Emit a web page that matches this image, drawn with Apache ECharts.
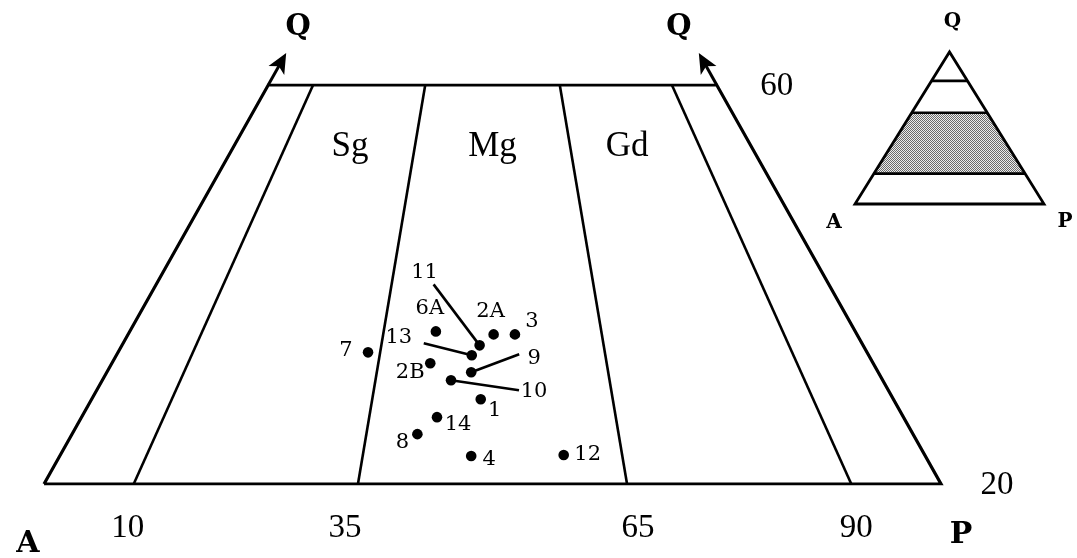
<!DOCTYPE html>
<html>
<head>
<meta charset="utf-8">
<script src="https://cdn.jsdelivr.net/npm/echarts@6/dist/echarts.min.js"></script>
<style>
  html, body { margin: 0; padding: 0; background: #fff; }
  #chart { width: 1077px; height: 558px; }
</style>
</head>
<body>
<div id="chart"></div>
<script>
// QAP band Q = 20–60 with the Sg / Mg / Gd fields and the analysed samples.
// Field boundaries are given as 100·P/(A+P).
const boundaryRatios = [0, 10, 35, 65, 90, 100];
const tickRatios = [10, 35, 65, 90];
const tickLabels = ['10', '35', '65', '90'];
const qLimits = [20, 60];
const arrowQ = 63.2;

const fieldNames = ['Sg', 'Mg', 'Gd'];
const fieldRatios = [22.5, 50, 76];
const fieldQ = 53.8;

// Modal compositions (vol. %) of the samples
const sampleNames = ['1', '2A', '2B', '3', '4', '6A', '7', '8', '9', '10', '11', '12', '13', '14'];
const sampleQ = [28.5, 35.0, 32.1, 35.0, 22.8, 35.3, 33.2, 25.0, 31.2, 30.4, 33.9, 22.9, 32.9, 26.7];
const sampleA = [36.8, 32.4, 39.5, 30.5, 40.5, 37.4, 44.5, 44.2, 36.3, 38.5, 34.2, 32.2, 35.4, 41.6];
const sampleP = [34.7, 32.6, 28.4, 34.5, 36.7, 27.3, 22.3, 30.8, 32.5, 31.1, 31.9, 44.9, 31.7, 31.7];

// Key triangle: Q levels of the horizontal lines and the highlighted band
const insetLevels = [20, 60, 81];
const insetBand = [20, 60];

// ---- layout (pixels) ----
const labelLayout = {
  '1':  { dx: 14,  dy: 11 },
  '2A': { dx: -3,  dy: -23 },
  '2B': { dx: -20, dy: 9 },
  '3':  { dx: 17,  dy: -13 },
  '4':  { dx: 18,  dy: 3 },
  '6A': { dx: -6,  dy: -23 },
  '7':  { dx: -22, dy: -2 },
  '8':  { dx: -15, dy: 8 },
  '9':  { dx: 63,  dy: -14, lead: [48, -18] },
  '10': { dx: 83,  dy: 11,  lead: [68, 10] },
  '11': { dx: -55, dy: -73, lead: [-46, -61] },
  '12': { dx: 24,  dy: -1 },
  '13': { dx: -73, dy: -18, lead: [-48, -12] },
  '14': { dx: 21,  dy: 7 }
};
const tickNudge = [-6, -13, 11, 5];
const SERIF = '"Liberation Serif", "DejaVu Serif", serif';
const SERIF2 = '"DejaVu Serif", serif';

// ternary -> cartesian: X = P + Q/2, Y = Q (all in % of Q+A+P)
function toXY(q, ratio) {
  const p = ratio / 100 * (100 - q);
  return [p + q / 2, q];
}
function samplePoint(i) {
  const t = sampleQ[i] + sampleA[i] + sampleP[i];
  const q = sampleQ[i] / t * 100, p = sampleP[i] / t * 100;
  return [p + q / 2, q];
}

// text annotation series: each item = [x, y, index]; texts/offsets by index
function textSeries(axis, points, texts, offsets, font) {
  return {
    type: 'custom', xAxisIndex: axis, yAxisIndex: axis, silent: true, clip: false, z: 5,
    data: points.map((p, i) => [p[0], p[1], i]),
    renderItem(params, api) {
      const i = api.value(2);
      const c = api.coord([api.value(0), api.value(1)]);
      const o = offsets[i];
      return {
        type: 'text', x: c[0] + o[0], y: c[1] + o[1],
        style: Object.assign({ text: texts[i], fill: '#000', align: 'center', verticalAlign: 'middle' }, font)
      };
    }
  };
}

// halftone tile for the highlighted band in the key
const tile = document.createElement('canvas');
tile.width = tile.height = 2;
(function () {
  const c = tile.getContext('2d');
  c.fillStyle = '#ececec'; c.fillRect(0, 0, 2, 2);
  c.fillStyle = '#6a6a6a'; c.fillRect(0, 0, 1, 1); c.fillRect(1, 1, 1, 1);
})();

const series = [];

// outer frame
series.push({
  type: 'line', xAxisIndex: 0, yAxisIndex: 0, silent: true, symbol: 'none',
  lineStyle: { color: '#000', width: 3.2, join: 'miter' },
  data: [toXY(qLimits[0], 0), toXY(qLimits[0], 100), toXY(qLimits[1], 100), toXY(qLimits[1], 0), toXY(qLimits[0], 0)]
});
// field boundaries
boundaryRatios.slice(1, -1).forEach(r => {
  series.push({
    type: 'line', xAxisIndex: 0, yAxisIndex: 0, silent: true, symbol: 'none',
    lineStyle: { color: '#000', width: 2.6 },
    data: [toXY(qLimits[0], r), toXY(qLimits[1], r)]
  });
});
// arrows continuing the A–Q and P–Q sides towards the Q apex
series.push({
  type: 'custom', xAxisIndex: 0, yAxisIndex: 0, silent: true, clip: false, z: 4,
  data: [[0], [100]],
  renderItem(params, api) {
    const r = api.value(0);
    const a = api.coord(toXY(qLimits[1], r));
    const b = api.coord(toXY(arrowQ, r));
    const dx = b[0] - a[0], dy = b[1] - a[1];
    const len = Math.hypot(dx, dy), ux = dx / len, uy = dy / len;
    const head = 20, half = 9;
    const bx = b[0] - ux * head, by = b[1] - uy * head;
    return {
      type: 'group',
      children: [
        { type: 'line', shape: { x1: a[0], y1: a[1], x2: bx + ux * 6, y2: by + uy * 6 }, style: { stroke: '#000', lineWidth: 3 } },
        {
          type: 'polygon',
          shape: { points: [[b[0], b[1]], [bx - uy * half, by + ux * half], [bx + ux * 5, by + uy * 5], [bx + uy * half, by - ux * half]] },
          style: { fill: '#000' }
        }
      ]
    };
  }
});

// samples: dot, optional leader line, name
series.push({
  type: 'custom', xAxisIndex: 0, yAxisIndex: 0, silent: true, clip: false, z: 6,
  data: sampleNames.map((n, i) => samplePoint(i).concat([i])),
  renderItem(params, api) {
    const i = api.value(2);
    const c = api.coord([api.value(0), api.value(1)]);
    const lay = labelLayout[sampleNames[i]];
    const children = [];
    if (lay.lead) {
      children.push({
        type: 'line',
        shape: { x1: c[0], y1: c[1], x2: c[0] + lay.lead[0], y2: c[1] + lay.lead[1] },
        style: { stroke: '#000', lineWidth: 2.6 }
      });
    }
    children.push({ type: 'circle', shape: { cx: c[0], cy: c[1], r: 5.3 }, style: { fill: '#000' } });
    children.push({
      type: 'text', x: c[0] + lay.dx, y: c[1] + lay.dy,
      style: { text: sampleNames[i], fill: '#000', fontSize: 21, fontFamily: SERIF2, align: 'center', verticalAlign: 'middle' }
    });
    return { type: 'group', children };
  }
});

// field names
series.push(textSeries(0, fieldRatios.map(r => toXY(fieldQ, r)), fieldNames,
  fieldNames.map(() => [0, 0]), { fontSize: 35, fontFamily: SERIF }));
// ratio ticks under the base
series.push(textSeries(0, tickRatios.map(r => toXY(qLimits[0], r)), tickLabels,
  tickNudge.map(d => [d, 44]), { fontSize: 33, fontFamily: SERIF }));
// Q limits on the right
series.push(textSeries(0, [toXY(qLimits[1], 100), toXY(qLimits[0], 100)], qLimits.slice().reverse().map(String),
  [[60, 1], [56, 1]], { fontSize: 33, fontFamily: SERIF }));
// apex letters
series.push(textSeries(0, [toXY(qLimits[0], 0), toXY(qLimits[0], 100)], ['A', 'P'],
  [[-16, 60], [20, 51]], { fontSize: 30, fontWeight: 'bold', fontFamily: SERIF2 }));
series.push(textSeries(0, [toXY(arrowQ, 0), toXY(arrowQ, 100)], ['Q', 'Q'],
  [[12, -26], [-20, -26]], { fontSize: 29, fontWeight: 'bold', fontFamily: SERIF2 }));

// key triangle
series.push({
  type: 'custom', xAxisIndex: 1, yAxisIndex: 1, silent: true, clip: false,
  data: [[0, 0]],
  renderItem(params, api) {
    const pt = (q, r) => api.coord(toXY(q, r));
    const children = [];
    children.push({
      type: 'polygon',
      shape: { points: [pt(insetBand[0], 0), pt(insetBand[0], 100), pt(insetBand[1], 100), pt(insetBand[1], 0)] },
      style: { fill: { image: tile, repeat: 'repeat' } }
    });
    insetLevels.forEach(q => {
      const a = pt(q, 0), b = pt(q, 100);
      children.push({ type: 'line', shape: { x1: a[0], y1: a[1], x2: b[0], y2: b[1] }, style: { stroke: '#000', lineWidth: 2.6 } });
    });
    children.push({
      type: 'polygon',
      shape: { points: [pt(0, 0), pt(0, 100), pt(100, 0)] },
      style: { fill: 'none', stroke: '#000', lineWidth: 2.8, lineJoin: 'miter' }
    });
    return { type: 'group', children };
  }
});
series.push(textSeries(1, [toXY(100, 0), toXY(0, 0), toXY(0, 100)], ['Q', 'A', 'P'],
  [[3, -30], [-21, 19], [21, 18]], { fontSize: 20, fontWeight: 'bold', fontFamily: SERIF2 }));

const chart = echarts.init(document.getElementById('chart'), null, { renderer: 'canvas' });
chart.setOption({
  animation: false,
  backgroundColor: '#fff',
  grid: [
    { left: 44, right: 136, top: 85, bottom: 74 },
    { left: 855, width: 189, top: 52, height: 152 }
  ],
  xAxis: [
    { type: 'value', gridIndex: 0, min: 10, max: 90, show: false },
    { type: 'value', gridIndex: 1, min: 0, max: 100, show: false }
  ],
  yAxis: [
    { type: 'value', gridIndex: 0, min: 20, max: 60, show: false },
    { type: 'value', gridIndex: 1, min: 0, max: 100, show: false }
  ],
  series
});
</script>
</body>
</html>
